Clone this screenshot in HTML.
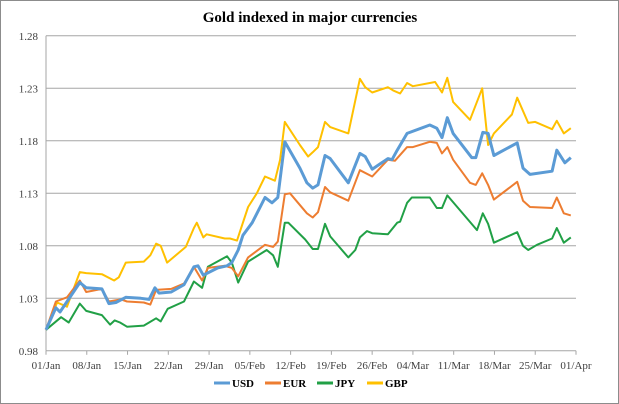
<!DOCTYPE html>
<html><head><meta charset="utf-8"><style>
html,body{margin:0;padding:0;background:#fff;}
#wrap{position:relative;width:619px;height:404px;overflow:hidden;}
svg text{font-family:"Liberation Serif",serif;}
</style></head><body>
<div id="wrap">
<svg id="chart" width="619" height="404">
<rect x="0.5" y="0.5" width="618" height="403" fill="#fff" stroke="#8c8c8c"/>
<text x="310" y="22" text-anchor="middle" font-size="15" font-weight="bold" fill="#000">Gold indexed in major currencies</text>
<g id="grid"></g><g id="series"></g><g id="legend"></g>
</svg>
</div>
<script>
const yTicks=[0.98,1.03,1.08,1.13,1.18,1.23,1.28];
const xTickLabels=["01/Jan","08/Jan","15/Jan","22/Jan","29/Jan","05/Feb","12/Feb","19/Feb","26/Feb","04/Mar","11/Mar","18/Mar","25/Mar","01/Apr"];
const seriesNames=["USD","EUR","JPY","GBP"];
const usdDays=[0,1.7,2.4,5.8,6.9,9.6,10.8,12,13.7,16.3,17.7,18.7,19.4,21.5,23.7,25.4,26.1,27,29.5,31.1,31.9,33,33.8,35.4,37.6,38.8,39.8,41,43.6,44.8,45.8,46.7,47.9,48.8,51.9,53.9,54.8,56,58.7,59.4,60.3,62,65.9,67.1,68,68.9,69.9,73.1,73.8,75,75.9,76.9,80.9,81.9,83.1,86.9,87.7,89.1,90.1];
const usdValues=[1.000,1.021,1.017,1.045,1.040,1.039,1.025,1.026,1.031,1.030,1.029,1.040,1.035,1.036,1.043,1.060,1.061,1.052,1.059,1.061,1.064,1.076,1.090,1.102,1.126,1.121,1.126,1.179,1.154,1.140,1.135,1.138,1.166,1.163,1.140,1.168,1.165,1.153,1.163,1.162,1.171,1.187,1.195,1.192,1.183,1.202,1.187,1.164,1.164,1.188,1.187,1.166,1.178,1.154,1.148,1.151,1.171,1.159,1.164];
const eurDays=[0,1.7,3.6,5.8,6.9,9.6,10.8,12.9,13.9,16.8,17.9,18.9,21.5,23.7,25.4,26.8,27.8,30.7,31.9,33,34.7,37.6,39,39.8,41,41.9,44.8,45.8,46.7,47.9,48.8,51.9,53.9,56,58.7,59.9,62,63,65.9,67.1,68,68.9,69.9,72.8,73.8,74.9,75.9,76.9,80.9,81.9,83.1,86.9,87.7,88.9,90.1];
const eurValues=[1.000,1.027,1.031,1.047,1.036,1.039,1.027,1.029,1.027,1.026,1.024,1.038,1.039,1.044,1.060,1.047,1.059,1.061,1.059,1.051,1.069,1.081,1.079,1.084,1.129,1.130,1.111,1.107,1.112,1.136,1.131,1.123,1.152,1.146,1.162,1.161,1.174,1.174,1.179,1.178,1.168,1.174,1.162,1.140,1.138,1.149,1.138,1.124,1.141,1.123,1.117,1.116,1.126,1.111,1.109];
const jpyDays=[0,2.6,3.9,5.8,6.9,9.6,11,11.8,12.7,13.9,16.8,17.7,18.9,19.7,20.9,23.7,25.4,26.8,27.8,31.1,31.9,33,34.7,37.9,39,39.8,41,41.6,44.5,45.8,46.7,47.9,48.8,51.9,53.1,53.9,55.1,56,58.7,60.3,60.8,62,62.8,65.9,67.1,68,68.9,74,75,75.9,76.9,80.9,81.9,82.8,84.3,86.9,87.7,88.9,90.1];
const jpyValues=[1.000,1.012,1.007,1.025,1.018,1.014,1.005,1.009,1.007,1.003,1.004,1.007,1.011,1.008,1.020,1.027,1.046,1.040,1.060,1.070,1.064,1.045,1.065,1.076,1.071,1.060,1.102,1.102,1.086,1.077,1.077,1.101,1.089,1.069,1.076,1.088,1.094,1.092,1.091,1.102,1.103,1.121,1.126,1.126,1.116,1.116,1.128,1.095,1.111,1.101,1.083,1.093,1.080,1.076,1.081,1.087,1.097,1.083,1.088];
const gbpDays=[0,1.9,3.6,5.8,6.9,9.6,11.7,12.5,13.7,16.8,17.9,18.9,19.7,20.8,24,25.4,25.9,27,27.6,30.7,31.6,32.8,34.7,36.2,37.6,39.3,40.2,41,43.6,45,45.8,46.7,47.9,48.8,51.9,53.9,54.8,56,58.7,59.6,60.8,62,63,66.8,68,68.9,69.9,72.8,74.9,75.9,76.9,80,80.9,82.8,84,86.9,87.7,88.9,90.1];
const gbpValues=[1.000,1.026,1.022,1.055,1.054,1.053,1.047,1.050,1.064,1.065,1.071,1.082,1.080,1.064,1.079,1.097,1.102,1.088,1.091,1.087,1.087,1.085,1.117,1.130,1.146,1.142,1.162,1.198,1.176,1.165,1.169,1.174,1.198,1.193,1.187,1.239,1.231,1.226,1.231,1.228,1.225,1.235,1.232,1.236,1.226,1.240,1.217,1.200,1.230,1.176,1.187,1.205,1.221,1.197,1.198,1.191,1.199,1.187,1.192];

const NS="http://www.w3.org/2000/svg";
const L=46,R=576,T=35.8,B=350.8,YMIN=0.98,YMAX=1.28,DMAX=91;
function xScale(d){return L+(R-L)*d/DMAX;}
function yScale(v){return B-(B-T)*(v-YMIN)/(YMAX-YMIN);}
function mk(tag,attrs,parent){const e=document.createElementNS(NS,tag);for(const k in attrs)e.setAttribute(k,attrs[k]);parent.appendChild(e);return e;}
const grid=document.getElementById('grid');
yTicks.forEach((t,i)=>{
  const y=yScale(t);
  if(i>0){const g=mk('line',{x1:L,x2:R,y1:y,y2:y,stroke:'#a6a6a6','stroke-width':1},grid);
  
  }
  const tx=mk('text',{x:L-8,y:y+4,'text-anchor':'end','font-size':11,fill:'#404040'},grid);
  tx.textContent=t.toFixed(2);
  
  
});
const ax=mk('line',{x1:L,x2:L,y1:T,y2:B,stroke:'#a6a6a6','stroke-width':1},grid);


const bx=mk('line',{x1:L,x2:R,y1:B,y2:B,stroke:'#a6a6a6','stroke-width':1},grid);


xTickLabels.forEach((lab,i)=>{
  const x=xScale(i*7);
  const tk=mk('line',{x1:x,x2:x,y1:B,y2:B+4,stroke:'#a6a6a6'},grid);
  
  
  const tx=mk('text',{x:x,y:B+18,'text-anchor':'middle','font-size':11,fill:'#404040'},grid);
  tx.textContent=lab;
  
  
});
const colors=['#5b9bd5','#ed7d31','#21a046','#ffc000'];
const widths=[3,2,2,2];
const days=[usdDays,eurDays,jpyDays,gbpDays];
const vals=[usdValues,eurValues,jpyValues,gbpValues];
const sg=document.getElementById('series');
[3,2,1,0].forEach(i=>{
  const pts=days[i].map((d,j)=>xScale(d).toFixed(1)+','+yScale(vals[i][j]).toFixed(1)).join(' ');
  const p=mk('polyline',{points:pts,fill:'none',stroke:colors[i],'stroke-width':widths[i],'stroke-linejoin':'round'},sg);
  
  
});
const lg=document.getElementById('legend');
const lx=[214,265,317,367];
seriesNames.forEach((n,i)=>{
  const l=mk('line',{x1:lx[i],x2:lx[i]+16,y1:383,y2:383,stroke:colors[i],'stroke-width':3},lg);
  
  
  const t=mk('text',{x:lx[i]+18,y:387,'font-size':11,'font-weight':'bold',fill:'#000'},lg);
  t.textContent=n;
  
  
});
</script>
</body></html>
